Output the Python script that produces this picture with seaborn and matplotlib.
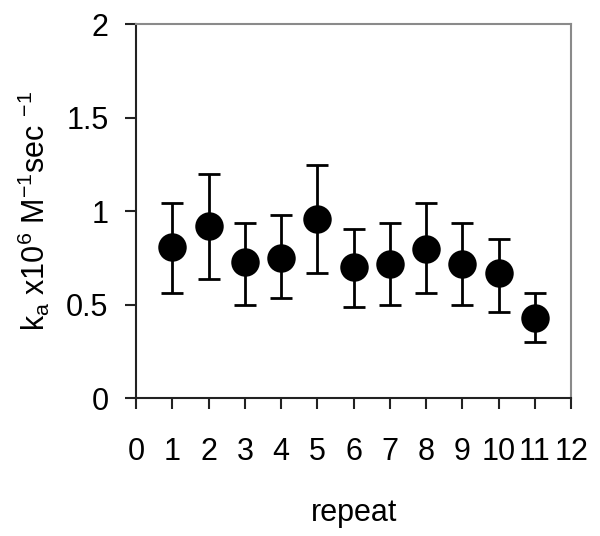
import pandas as pd
import matplotlib
matplotlib.use("Agg")
import matplotlib.pyplot as plt
import seaborn as sns

repeat = [1, 2, 3, 4, 5, 6, 7, 8, 9, 10, 11]
ka = [0.81, 0.92, 0.73, 0.75, 0.96, 0.70, 0.72, 0.80, 0.72, 0.67, 0.43]
err_low = [0.56, 0.64, 0.50, 0.535, 0.67, 0.49, 0.50, 0.56, 0.50, 0.46, 0.30]
err_high = [1.045, 1.20, 0.935, 0.98, 1.245, 0.905, 0.935, 1.045, 0.935, 0.85, 0.56]
x_ticks = list(range(0, 13))
y_ticks = [0, 0.5, 1, 1.5, 2]
y_tick_labels = ['0', '0.5', '1', '1.5', '2']

df = pd.DataFrame({'repeat': repeat, 'ka': ka, 'lo': err_low, 'hi': err_high})

sns.set_style('ticks')
plt.rcParams['font.family'] = ['Liberation Sans', 'DejaVu Sans']
plt.rcParams['mathtext.fontset'] = 'custom'
plt.rcParams['mathtext.rm'] = 'Liberation Sans'
plt.rcParams['mathtext.it'] = 'Liberation Sans'
plt.rcParams['text.color'] = 'black'
plt.rcParams['axes.labelcolor'] = 'black'
plt.rcParams['xtick.color'] = 'black'
plt.rcParams['ytick.color'] = 'black'

fig = plt.figure(figsize=(6, 5.36), dpi=100)
ax = fig.add_axes([0.227, 0.257, 0.725, 0.698])

ax.errorbar(df['repeat'], df['ka'],
            yerr=[df['ka'] - df['lo'], df['hi'] - df['ka']],
            fmt='none', ecolor='black', elinewidth=2, capsize=8, capthick=2, zorder=2)
sns.scatterplot(x='repeat', y='ka', data=df, ax=ax, color='black', s=420,
                linewidth=0, zorder=3, legend=False)

ax.set_xlim(0, 12)
ax.set_ylim(0, 2)
ax.set_xticks(x_ticks)
ax.set_yticks(y_ticks)
ax.set_yticklabels(y_tick_labels)
ax.tick_params(axis='both', direction='out', length=8, width=1.5, labelsize=22, color='#222222')
ax.tick_params(axis='x', pad=20)
ax.tick_params(axis='y', pad=12)

for s in ['left', 'bottom']:
    ax.spines[s].set_color('#222222')
    ax.spines[s].set_linewidth(1.5)
for s in ['top', 'right']:
    ax.spines[s].set_color('#8a8a8a')
    ax.spines[s].set_linewidth(1.5)

ax.set_xlabel('repeat', fontsize=22, labelpad=22)
ax.set_ylabel(r'k$_{\mathrm{a}}$ x10$^{6}$ M$^{-1}$sec $^{-1}$', fontsize=22, labelpad=10)

fig.savefig('out.png', dpi=100)
